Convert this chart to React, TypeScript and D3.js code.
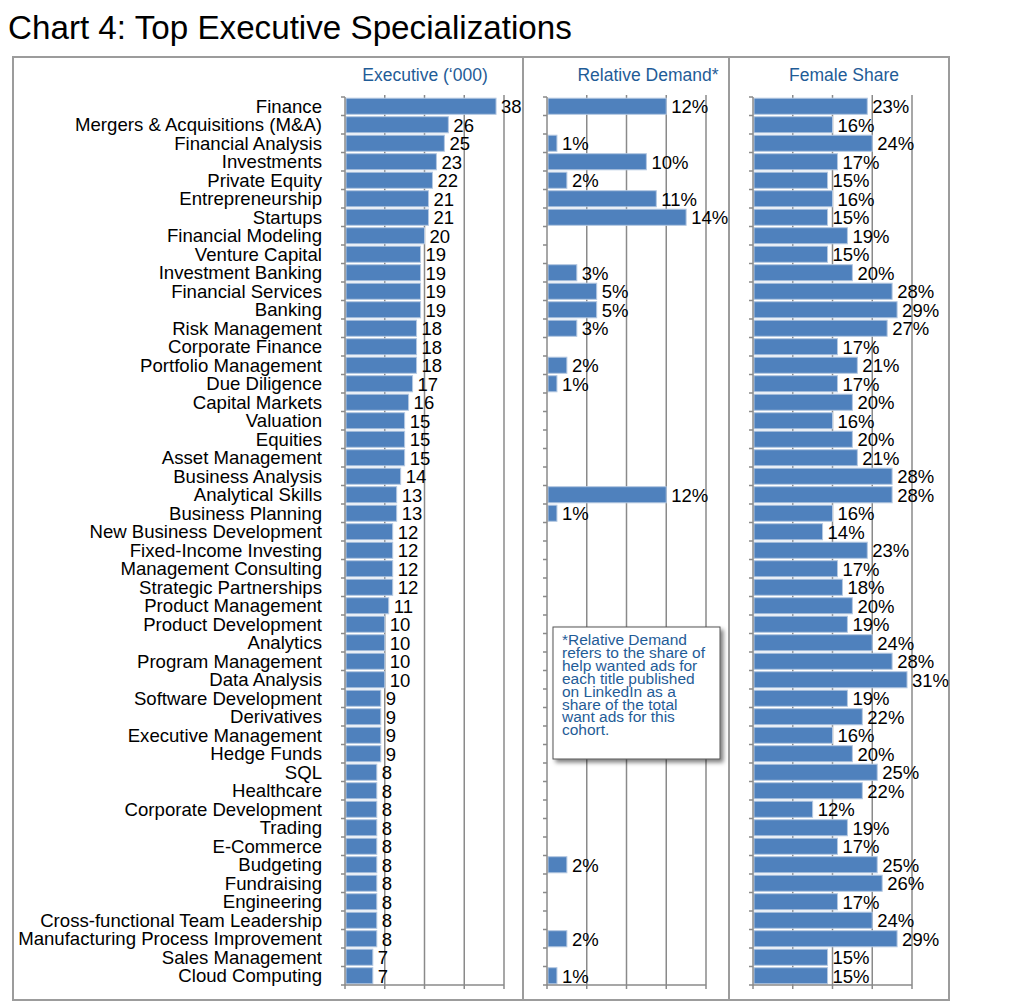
import * as d3 from "d3";

const categories = [
  "Finance", "Mergers & Acquisitions (M&A)", "Financial Analysis", "Investments",
  "Private Equity", "Entrepreneurship", "Startups", "Financial Modeling",
  "Venture Capital", "Investment Banking", "Financial Services", "Banking",
  "Risk Management", "Corporate Finance", "Portfolio Management", "Due Diligence",
  "Capital Markets", "Valuation", "Equities", "Asset Management",
  "Business Analysis", "Analytical Skills", "Business Planning", "New Business Development",
  "Fixed-Income Investing", "Management Consulting", "Strategic Partnerships", "Product Management",
  "Product Development", "Analytics", "Program Management", "Data Analysis",
  "Software Development", "Derivatives", "Executive Management", "Hedge Funds",
  "SQL", "Healthcare", "Corporate Development", "Trading",
  "E-Commerce", "Budgeting", "Fundraising", "Engineering",
  "Cross-functional Team Leadership", "Manufacturing Process Improvement", "Sales Management", "Cloud Computing",
];

const executives = [
  38, 26, 25, 23, 22, 21, 21, 20, 19, 19, 19, 19, 18, 18, 18, 17,
  16, 15, 15, 15, 14, 13, 13, 12, 12, 12, 12, 11, 10, 10, 10, 10,
  9, 9, 9, 9, 8, 8, 8, 8, 8, 8, 8, 8, 8, 8, 7, 7,
];

const relativeDemand: (number | null)[] = [
  12, null, 1, 10, 2, 11, 14, null, null, 3, 5, 5, 3, null, 2, 1,
  null, null, null, null, null, 12, 1, null, null, null, null, null, null, null, null, null,
  null, null, null, null, null, null, null, null, null, 2, null, null, null, 2, null, 1,
];

const femaleShare = [
  23, 16, 24, 17, 15, 16, 15, 19, 15, 20, 28, 29, 27, 17, 21, 17,
  20, 16, 20, 21, 28, 28, 16, 14, 23, 17, 18, 20, 19, 24, 28, 31,
  19, 22, 16, 20, 25, 22, 12, 19, 17, 25, 26, 17, 24, 29, 15, 15,
];

const noteLines = [
  "*Relative Demand",
  "refers to the share of",
  "help wanted ads for",
  "each title published",
  "on LinkedIn as a",
  "share of the total",
  "want ads for this",
  "cohort.",
];

const FONT = "'Liberation Sans', Arial, Helvetica, sans-serif";
const BLUE_TEXT = "#1f5c97";
const BAR = "#4f81bd";
const GRID = "#8a8a8a";
const TOP = 97;
const BOTTOM = 985;
const PLOT_W = 159;

const y = d3
  .scaleBand<string>()
  .domain(categories)
  .range([TOP, BOTTOM])
  .paddingInner(0.13)
  .paddingOuter(0.065);

const boundaries = d3.range(categories.length + 1).map(
  (i) => TOP + (i * (BOTTOM - TOP)) / categories.length
);

interface PanelProps {
  x0: number;
  max: number;
  step: number;
  values: (number | null)[];
  fmt: (v: number) => string;
  title: string;
  titleX: number;
}

function Panel({ x0, max, step, values, fmt, title, titleX }: PanelProps) {
  const x = d3.scaleLinear().domain([0, max]).range([x0, x0 + PLOT_W]);
  const ticks = d3.range(0, max + step / 2, step);
  return (
    <g>
      <text
        x={titleX}
        y={81}
        textAnchor="middle"
        fontSize={17.5}
        fill={BLUE_TEXT}
        fontFamily={FONT}
      >
        {title}
      </text>
      {/* gridlines */}
      {ticks.slice(1).map((t) => (
        <line key={t} x1={x(t)} x2={x(t)} y1={TOP} y2={BOTTOM + 4} stroke={GRID} strokeWidth={1.5} />
      ))}
      {/* bars */}
      {values.map((v, i) =>
        v == null ? null : (
          <rect
            key={i}
            x={x(0) + 1}
            y={y(categories[i])}
            width={x(v) - x(0) - 1}
            height={y.bandwidth()}
            fill={BAR}
            stroke="#b4c8e2"
            strokeWidth={1}
          />
        )
      )}
      {values.map((v, i) =>
        v == null ? null : (
          <text
            key={i}
            x={x(v) + 5}
            y={(y(categories[i]) as number) + y.bandwidth() / 2}
            dy="0.38em"
            fontSize={18.5}
            fill="#000"
            fontFamily={FONT}
          >
            {fmt(v)}
          </text>
        )
      )}
      {/* axes */}
      <line x1={x0} x2={x0} y1={TOP} y2={BOTTOM} stroke={GRID} strokeWidth={1.5} />
      {boundaries.map((b, i) => (
        <line key={i} x1={x0 - 4} x2={x0} y1={b} y2={b} stroke={GRID} strokeWidth={1.5} />
      ))}
      <line x1={x0} x2={x0 + PLOT_W} y1={BOTTOM} y2={BOTTOM} stroke={GRID} strokeWidth={1.5} />
      <line x1={x0} x2={x0} y1={BOTTOM} y2={BOTTOM + 4} stroke={GRID} strokeWidth={1.5} />
      {ticks.slice(1).map((t) => (
        <line key={t} x1={x(t)} x2={x(t)} y1={TOP - 2} y2={TOP} stroke={GRID} strokeWidth={1.5} />
      ))}
    </g>
  );
}

export default function App() {
  return (
    <svg
      width={1024}
      height={1007}
      style={{ position: "absolute", left: 0, top: 0, background: "#fff" }}
    >
      <defs>
        <filter id="shadow" x="-10%" y="-10%" width="130%" height="130%">
          <feDropShadow dx={3} dy={3} stdDeviation={2} floodColor="#000" floodOpacity={0.5} />
        </filter>
      </defs>
      <rect width={1024} height={1007} fill="#fff" />
      <text x={8} y={39} fontSize={33.2} fill="#000" fontFamily={FONT}>
        Chart 4: Top Executive Specializations
      </text>

      {/* frames */}
      <rect x={13} y={57} width={936} height={943} fill="none" stroke="#9c9c9c" strokeWidth={2} />
      <line x1={523} x2={523} y1={57} y2={1000} stroke="#9c9c9c" strokeWidth={2} />
      <line x1={729} x2={729} y1={57} y2={1000} stroke="#9c9c9c" strokeWidth={2} />

      {/* category labels */}
      {categories.map((c) => (
        <text
          key={c}
          x={322}
          y={(y(c) as number) + y.bandwidth() / 2}
          dy="0.36em"
          textAnchor="end"
          fontSize={18.6}
          fill="#000"
          fontFamily={FONT}
        >
          {c}
        </text>
      ))}

      <Panel x0={345} max={40} step={10} values={executives} fmt={(v) => `${v}`} title="Executive (‘000)" titleX={425} />
      <Panel x0={547} max={16} step={4} values={relativeDemand} fmt={(v) => `${v}%`} title="Relative Demand*" titleX={648} />
      <Panel x0={753} max={32} step={8} values={femaleShare} fmt={(v) => `${v}%`} title="Female Share" titleX={844} />

      {/* note box */}
      <rect x={553} y={627} width={167} height={132} fill="#fff" stroke="#555" strokeWidth={1} filter="url(#shadow)" />
      {noteLines.map((l, i) => (
        <text key={i} x={562} y={645 + i * 12.9} fontSize={15.5} fill={BLUE_TEXT} fontFamily={FONT}>
          {l}
        </text>
      ))}
    </svg>
  );
}
